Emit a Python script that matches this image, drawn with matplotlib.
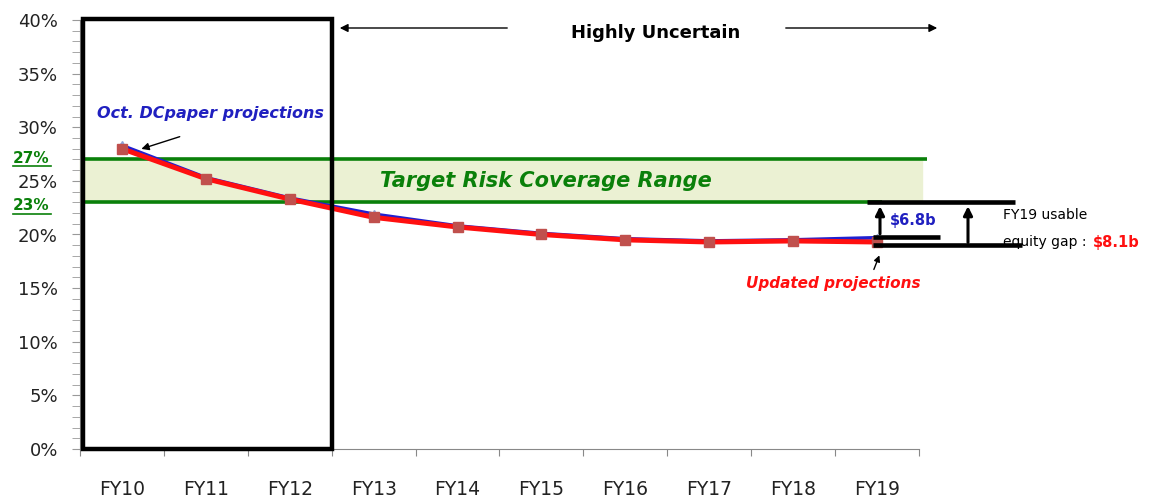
import matplotlib
matplotlib.use("Agg")
import matplotlib.pyplot as plt
from matplotlib.patches import Rectangle

categories = ["FY10", "FY11", "FY12", "FY13", "FY14", "FY15", "FY16", "FY17", "FY18", "FY19"]
oct_projections = [28.3, 25.3, 23.4, 21.9, 20.8, 20.1, 19.6, 19.4, 19.5, 19.7]
updated_projections = [28.0, 25.2, 23.3, 21.6, 20.7, 20.0, 19.5, 19.3, 19.4, 19.3]
target_low, target_high = 23, 27
gap_top, gap_mid, gap_bottom = 23.0, 19.8, 19.0

fig = plt.figure(figsize=(11.54, 5.0), dpi=100)
ax = fig.add_axes([80/1154, 1-449/500, (919-80)/1154, (449-20)/500])
x = list(range(len(categories)))

ax.set_xlim(-0.5, len(categories) - 0.5)
ax.set_ylim(0, 40)

# target band
ax.axhspan(target_low, target_high, xmin=0, xmax=(922-80)/(919-80), color="#ebf1d3", zorder=1, clip_on=False)
ax.plot([-0.47, 9.6], [target_high, target_high], color="#0a800a", lw=2.6, zorder=2, clip_on=False, solid_capstyle="butt")
ax.plot([-0.47, 9.06], [target_low, target_low], color="#0a800a", lw=2.6, zorder=2, clip_on=False, solid_capstyle="butt")

# series
ax.plot(x, oct_projections, color="#2020d0", lw=2.6, marker="^", ms=6, mfc="#9db3e0", mec="#8aa0d8", zorder=4)
ax.plot(x, updated_projections, color="#ff1010", lw=3.6, zorder=5)
ax.plot(x, updated_projections, ls="none", marker="s", ms=6.5, mfc="#c0504d", mec="#c0504d", zorder=6)

# uncertain box
ax.add_patch(Rectangle((-0.47, 0), 2.97, 40.05, fill=False, ec="black", lw=3.2, zorder=7, clip_on=False))

# axes style
for s in ["top", "right"]:
    ax.spines[s].set_visible(False)
ax.spines["left"].set_color("#888888")
ax.spines["bottom"].set_color("#888888")
ax.set_yticks(range(0, 41, 5))
ax.set_yticklabels([f"{v}%" for v in range(0, 41, 5)], fontsize=13, color="#222222")
ax.set_yticks(range(0, 41, 1), minor=True)
ax.tick_params(axis="y", which="both", length=6, color="#999999", pad=10)
ax.set_xticks([i - 0.5 for i in range(len(categories) + 1)])
ax.set_xticklabels([])
ax.tick_params(axis="x", which="major", length=5, color="#888888")
for i, c in enumerate(categories):
    ax.text(i, -3.8, c, ha="center", va="center", fontsize=13.5, color="#222222",
            transform=ax.transData)

# green underlined labels
fig.text(31/1154, 1-158/500, "27%", color="#0a800a", fontsize=11, fontweight="bold", ha="center", va="center")
fig.text(31/1154, 1-206/500, "23%", color="#0a800a", fontsize=11, fontweight="bold", ha="center", va="center")
fig.add_artist(plt.Line2D([13/1154, 51/1154], [1-166/500, 1-166/500], color="#0a800a", lw=1.2))
fig.add_artist(plt.Line2D([13/1154, 51/1154], [1-214/500, 1-214/500], color="#0a800a", lw=1.2))

ax.text(5.05, 25.0, "Target Risk Coverage Range", color="#0a800a", fontsize=15, fontweight="bold",
        fontstyle="italic", ha="center", va="center", zorder=8)

# Highly Uncertain
fig.text(656/1154, 1-33/500, "Highly Uncertain", fontsize=13, fontweight="bold", ha="center", va="center")
ax.annotate("", xy=(337/1154, 1-28/500), xytext=(510/1154, 1-28/500), xycoords="figure fraction",
            arrowprops=dict(arrowstyle="-|>", color="black", lw=1.0, mutation_scale=12))
ax.annotate("", xy=(940/1154, 1-28/500), xytext=(783/1154, 1-28/500), xycoords="figure fraction",
            arrowprops=dict(arrowstyle="-|>", color="black", lw=1.0, mutation_scale=12))

# Oct label
ax.text(1.06, 31.3, "Oct. DCpaper projections", color="#2020c0", fontsize=11.5, fontweight="bold",
        fontstyle="italic", ha="center", va="center")
ax.annotate("", xy=(0.2, 27.9), xytext=(0.72, 29.2),
            arrowprops=dict(arrowstyle="-|>", color="black", lw=1.0, mutation_scale=11))

# Updated label
ax.text(8.48, 15.4, "Updated projections", color="#ff1010", fontsize=11, fontweight="bold",
        fontstyle="italic", ha="center", va="center")
ax.annotate("", xy=(9.04, 18.3), xytext=(8.95, 16.5),
            arrowprops=dict(arrowstyle="-|>", color="black", lw=1.0, mutation_scale=9))

# gap bars
def px(v):
    return (v - 80) / (919 - 80) * (len(categories)) - 0.5

bar_kw = dict(color="black", lw=3.3, clip_on=False, solid_capstyle="butt", zorder=8)
ax.plot([px(867), px(1015)], [gap_top, gap_top], **bar_kw)
ax.plot([px(873), px(940)], [gap_mid, gap_mid], **bar_kw)
ax.plot([px(873), px(1022)], [gap_bottom, gap_bottom], **bar_kw)
ax.annotate("", xy=(px(880), gap_top - 0.1), xytext=(px(880), gap_mid),
            arrowprops=dict(arrowstyle="-|>", color="black", lw=2.2, mutation_scale=13), annotation_clip=False)
ax.annotate("", xy=(px(968), gap_top - 0.1), xytext=(px(968), gap_bottom),
            arrowprops=dict(arrowstyle="-|>", color="black", lw=2.2, mutation_scale=13), annotation_clip=False)
ax.text(px(890), 21.3, "$6.8b", color="#2020c0", fontsize=10.5, fontweight="bold", ha="left", va="center",
        clip_on=False)
ax.text(px(1003), 21.8, "FY19 usable", color="black", fontsize=10, ha="left", va="center", clip_on=False)
ax.text(px(1003), 19.3, "equity gap :", color="black", fontsize=10, ha="left", va="center", clip_on=False)
ax.text(px(1093), 19.3, "$8.1b", color="#ff1010", fontsize=10.5, fontweight="bold", ha="left", va="center",
        clip_on=False)

fig.savefig("out.png", dpi=100)
